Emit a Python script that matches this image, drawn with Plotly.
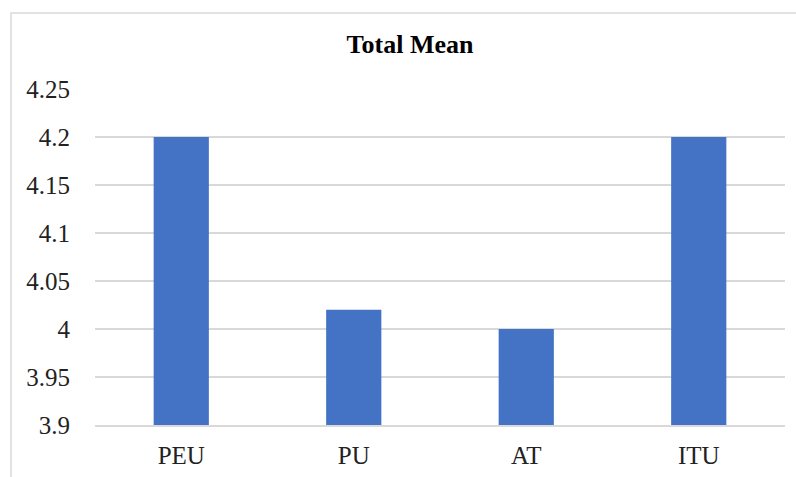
import plotly.graph_objects as go

categories = ["PEU", "PU", "AT", "ITU"]
mean_values = [4.2, 4.02, 4.0, 4.2]
y_ticks = [3.9, 3.95, 4.0, 4.05, 4.1, 4.15, 4.2, 4.25]
y_tick_labels = ["3.9", "3.95", "4", "4.05", "4.1", "4.15", "4.2", "4.25"]

serif = "Liberation Serif"

fig = go.Figure(
    go.Bar(
        x=categories,
        y=mean_values,
        marker=dict(color="#4472C4", line=dict(width=0)),
    )
)

fig.update_layout(
    width=796,
    height=477,
    margin=dict(l=95, r=11, t=89, b=52),
    paper_bgcolor="white",
    plot_bgcolor="white",
    bargap=0.68,
    showlegend=False,
    title=dict(
        text="<b>Total Mean</b>",
        x=410 / 796,
        xanchor="center",
        y=1 - 44 / 477,
        yanchor="middle",
        font=dict(family=serif, size=26, color="#000000"),
    ),
    font=dict(family=serif, size=25, color="#222222"),
)

fig.update_yaxes(
    range=[3.9, 4.25],
    tickvals=y_ticks,
    ticktext=y_tick_labels,
    showgrid=True,
    gridcolor="#d9d9d9",
    gridwidth=1.5,
    zeroline=False,
    showline=False,
    ticks="",
    automargin=False,
    ticklabelstandoff=24,
    tickfont=dict(family=serif, size=25, color="#222222"),
)
fig.update_xaxes(
    showgrid=False,
    showline=True,
    linecolor="#d9d9d9",
    linewidth=1.5,
    ticks="",
    automargin=False,
    ticklabelstandoff=7,
    tickfont=dict(family=serif, size=25, color="#222222"),
)

# chart frame
fig.add_shape(
    type="rect",
    xref="paper",
    yref="paper",
    x0=(11 - 95) / 690,
    x1=(805 - 95) / 690,
    y0=(425 - 490) / 336,
    y1=(425 - 13) / 336,
    line=dict(color="#d9d9d9", width=1.5),
    fillcolor="rgba(0,0,0,0)",
    layer="below",
)

fig.write_html("out.html")
